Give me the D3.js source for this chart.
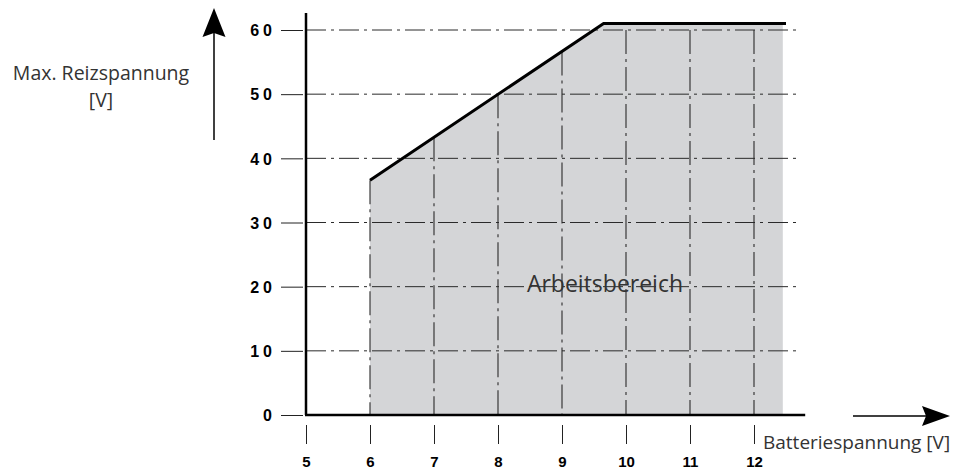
<!DOCTYPE html>
<html>
<head>
<meta charset="utf-8">
<script src="https://cdn.jsdelivr.net/npm/d3@7"></script>
<style>
  html, body { margin: 0; padding: 0; background: #fff; }
  svg { display: block; }
</style>
</head>
<body>
<svg id="chart" width="959" height="472"></svg>
<script>
// ---- data ----
const xTicks = [5, 6, 7, 8, 9, 10, 11, 12];
const yTicks = [0, 10, 20, 30, 40, 50, 60];
const xGrid = [6, 7, 8, 9, 10, 11, 12];
const yGrid = [10, 20, 30, 40, 50, 60];
// upper limit curve: Batteriespannung [V] -> max. Reizspannung [V]
const limitX = [6, 9.65, 12.5];
const limitY = [36.6, 61, 61];
// working area (Arbeitsbereich) outline
const areaX = [6, 6, 9.65, 12.45, 12.45];
const areaY = [0, 36.6, 61, 61, 0];
const yTitle = ["Max. Reizspannung", "[V]"];
const xTitle = "Batteriespannung [V]";
const areaLabel = "Arbeitsbereich";

// ---- scales ----
const x = d3.scaleLinear().domain([5, 12]).range([306, 754]);
const y = d3.scaleLinear().domain([0, 60]).range([415, 30]);
const limitAt = d3.scaleLinear().domain(limitX).range(limitY).clamp(true);

const svg = d3.select("#chart");

// grey working area
svg.append("path")
  .datum(areaX.map((v, i) => [v, areaY[i]]))
  .attr("d", d3.line().x(d => x(d[0])).y(d => y(d[1])))
  .attr("fill", "#d4d5d7");

// horizontal dash-dot gridlines
svg.append("g").selectAll("line").data(yGrid).join("line")
  .attr("x1", x(5)).attr("x2", x(12.68))
  .attr("y1", d => y(d)).attr("y2", d => y(d))
  .attr("stroke", "#2a2a2a").attr("stroke-width", 1)
  .attr("stroke-dasharray", "20,5,3,5");

// vertical dash-dot gridlines
svg.append("g").selectAll("line").data(xGrid).join("line")
  .attr("x1", d => x(d)).attr("x2", d => x(d))
  .attr("y1", d => y(Math.min(limitAt(d), 60))).attr("y2", y(0))
  .attr("stroke", "#2a2a2a").attr("stroke-width", 1.1)
  .attr("stroke-dasharray", "24,5,3,5");

// limit curve
svg.append("path")
  .datum(limitX.map((v, i) => [v, limitY[i]]))
  .attr("d", d3.line().x(d => x(d[0])).y(d => y(d[1])))
  .attr("fill", "none").attr("stroke", "#000").attr("stroke-width", 3)
  .attr("stroke-linejoin", "miter");

// y axis ticks + labels
const yAxis = svg.append("g")
  .attr("transform", "translate(303,0)")
  .call(d3.axisLeft(y).tickValues(yTicks).tickSize(22).tickPadding(9).tickFormat(d3.format("d")));
yAxis.select(".domain").remove();
yAxis.selectAll(".tick line").attr("stroke", "#222").attr("stroke-width", 1);
yAxis.selectAll(".tick text")
  .attr("font-family", "Liberation Sans, Arial, sans-serif")
  .attr("font-weight", "bold").attr("font-size", 16).attr("fill", "#000")
  .attr("letter-spacing", "4px").attr("dx", "4px").attr("dy", "0.36em");

// x axis ticks + labels (detached below the baseline)
const xAxis = svg.append("g")
  .attr("transform", "translate(0,425)")
  .call(d3.axisBottom(x).tickValues(xTicks).tickSize(19).tickFormat(d3.format("d")));
xAxis.select(".domain").remove();
xAxis.selectAll(".tick line").attr("stroke", "#222").attr("stroke-width", 1);
xAxis.selectAll(".tick text")
  .attr("font-family", "Liberation Sans, Arial, sans-serif")
  .attr("font-weight", "bold").attr("font-size", 15).attr("fill", "#000")
  .attr("y", 42).attr("dy", 0);

// main axis lines
svg.append("line")
  .attr("x1", x(5)).attr("x2", x(5)).attr("y1", 13).attr("y2", y(0))
  .attr("stroke", "#000").attr("stroke-width", 2.5);
svg.append("line")
  .attr("x1", x(5) - 1).attr("x2", x(12.8)).attr("y1", y(0)).attr("y2", y(0))
  .attr("stroke", "#000").attr("stroke-width", 2.5);

// arrows
svg.append("line").attr("x1", 214).attr("x2", 214).attr("y1", 140).attr("y2", 30)
  .attr("stroke", "#000").attr("stroke-width", 1.5);
svg.append("path").attr("d", "M214,8 L225.5,37 L214,33 L202.5,37 Z").attr("fill", "#000");
svg.append("line").attr("x1", 853).attr("x2", 930).attr("y1", 416).attr("y2", 416)
  .attr("stroke", "#000").attr("stroke-width", 1.5);
svg.append("path").attr("d", "M950,416 L922,406 L926,416 L922,426 Z").attr("fill", "#000");

// titles
const textFont = "Open Sans, Lato, sans-serif";
svg.append("text").text(yTitle[0])
  .attr("x", 101).attr("y", 80).attr("text-anchor", "middle")
  .attr("font-family", textFont).attr("font-size", 19.5).attr("fill", "#333");
svg.append("text").text(yTitle[1])
  .attr("x", 101).attr("y", 107).attr("text-anchor", "middle")
  .attr("font-family", textFont).attr("font-size", 19.5).attr("fill", "#333");
svg.append("text").text(xTitle)
  .attr("x", 763).attr("y", 449)
  .attr("font-family", textFont).attr("font-size", 19).attr("fill", "#333");
svg.append("text").text(areaLabel)
  .attr("x", 605).attr("y", 292).attr("text-anchor", "middle")
  .attr("font-family", textFont).attr("font-size", 23).attr("fill", "#333");
</script>
</body>
</html>
